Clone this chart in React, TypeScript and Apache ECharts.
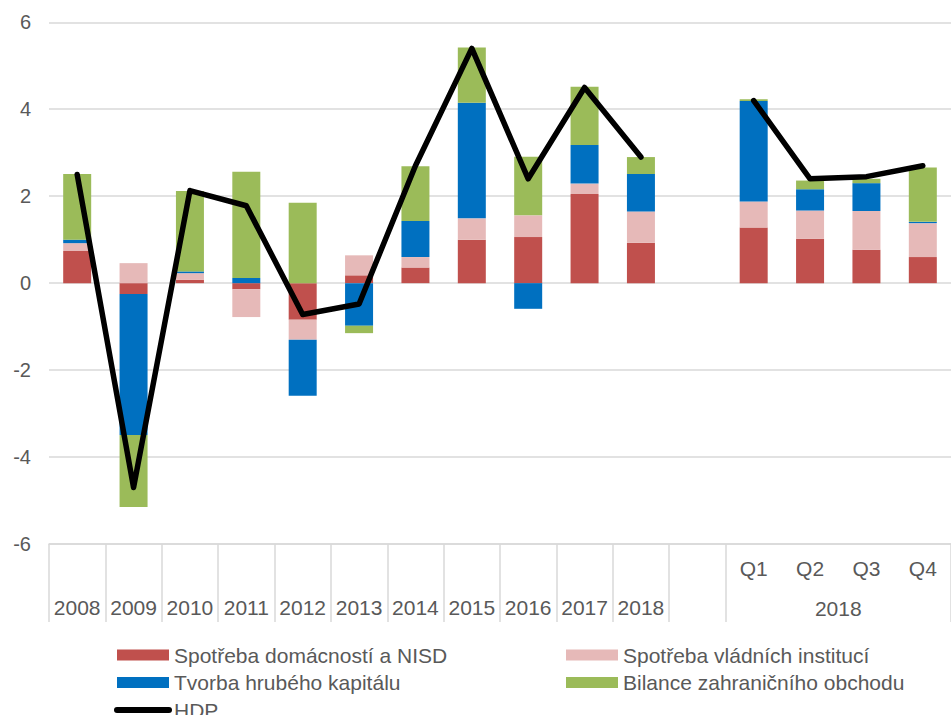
import React, { useEffect, useRef } from "react";
import * as echarts from "echarts";

const categories = ["2008", "2009", "2010", "2011", "2012", "2013", "2014", "2015", "2016", "2017", "2018", "", "Q1", "Q2", "Q3", "Q4"];
const groupLabels = ["", "", "", "2018"];

const households = [0.74, -0.25, 0.08, -0.14, -0.84, 0.18, 0.36, 1.0, 1.06, 2.05, 0.93, null, 1.28, 1.02, 0.77, 0.6];
const government = [0.18, 0.46, 0.15, -0.64, -0.46, 0.46, 0.24, 0.49, 0.5, 0.24, 0.72, null, 0.6, 0.65, 0.89, 0.78];
const capital = [0.08, -3.24, 0.04, 0.12, -1.29, -0.98, 0.83, 2.66, -0.59, 0.89, 0.86, null, 2.31, 0.49, 0.64, 0.03];
const trade = [1.51, -1.66, 1.85, 2.44, 1.85, -0.17, 1.26, 1.27, 1.35, 1.34, 0.39, null, 0.04, 0.2, 0.1, 1.25];
const gdp = [2.5, -4.7, 2.13, 1.78, -0.72, -0.48, 2.7, 5.4, 2.4, 4.5, 2.9, null, 4.2, 2.4, 2.45, 2.7];

const names = [
  "Spotřeba domácností a NISD",
  "Spotřeba vládních institucí",
  "Tvorba hrubého kapitálu",
  "Bilance zahraničního obchodu",
  "HDP",
];
const colors = ["#C0504D", "#E6B9B8", "#0070C0", "#9BBB59", "#000000"];

const FONT = "'Liberation Sans', Arial, sans-serif";
const TXT = "#595959";
const GRIDC = "#D9D9D9";
const CHART_H = 745;

export default function App() {
  const ref = useRef<HTMLDivElement>(null);
  useEffect(() => {
    if (!ref.current) return;
    const chart = echarts.init(ref.current, null, { renderer: "svg" });
    const barSeries = [households, government, capital, trade].map((d, i) => ({
      name: names[i],
      type: "bar",
      stack: "total",
      barWidth: 28,
      data: d,
      itemStyle: { color: colors[i] },
      xAxisIndex: 0,
      yAxisIndex: 0,
    }));
    const legendText = { fontSize: 21, lineHeight: 21, color: TXT, fontFamily: FONT };
    const legendBase = {
      orient: "vertical",
      top: 644.5,
      height: 90,
      padding: 0,
      itemWidth: 52,
      itemHeight: 11,
      itemGap: 6.5,
      textStyle: legendText,
    };
    chart.setOption({
      animation: false,
      textStyle: { fontFamily: FONT },
      grid: { left: 49, right: -8.4, top: 22.3, bottom: CHART_H - 544, containLabel: false },
      legend: [
        {
          ...legendBase,
          left: 114,
          data: [
            { name: names[0], icon: "rect" },
            { name: names[2], icon: "rect" },
            { name: names[4], itemStyle: { opacity: 0 }, lineStyle: { width: 6, cap: "round", color: "#000" } },
          ],
        },
        {
          ...legendBase,
          left: 566,
          data: [
            { name: names[1], icon: "rect" },
            { name: names[3], icon: "rect" },
          ],
        },
      ],
      xAxis: [
        {
          type: "category",
          data: categories,
          position: "bottom",
          axisLine: { show: true, onZero: false, lineStyle: { color: GRIDC, width: 1.5 } },
          axisTick: {
            show: true,
            length: 78,
            interval: (i: number) => i <= 12,
            lineStyle: { color: GRIDC, width: 1.5 },
          },
          splitLine: { show: false },
          axisLabel: {
            interval: 0,
            margin: 5,
            color: TXT,
            fontSize: 21,
            lineHeight: 39,
            formatter: (v: string, i: number) => (i <= 10 ? `\n${v}` : v),
          },
        },
        {
          type: "category",
          data: groupLabels,
          position: "bottom",
          axisLine: { show: false, onZero: false },
          axisTick: { show: false },
          splitLine: { show: false },
          axisLabel: { interval: 0, margin: 54, color: TXT, fontSize: 21, lineHeight: 21 },
        },
      ],
      yAxis: {
        type: "value",
        min: -6,
        max: 6,
        interval: 2,
        axisLine: { show: false },
        axisTick: { show: false },
        axisLabel: { color: TXT, fontSize: 20, margin: 18 },
        splitLine: { lineStyle: { color: GRIDC, width: 1.5 } },
      },
      series: [
        ...barSeries,
        {
          name: names[4],
          type: "line",
          data: gdp,
          symbol: "none",
          connectNulls: false,
          z: 5,
          itemStyle: { color: "#000" },
          lineStyle: { color: "#000", width: 5.5, cap: "round", join: "round" },
          xAxisIndex: 0,
          yAxisIndex: 0,
        },
      ],
    });
    return () => chart.dispose();
  }, []);
  return <div ref={ref} style={{ position: "absolute", left: 0, top: 0, width: 951, height: CHART_H }} />;
}
